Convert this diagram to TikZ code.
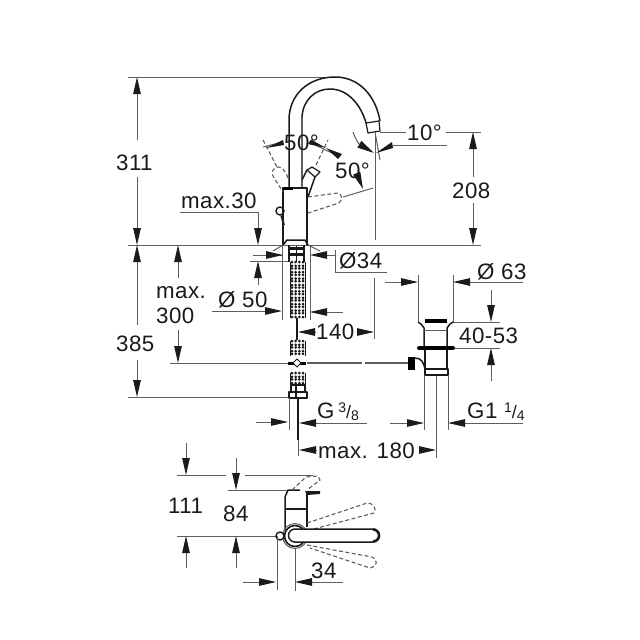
\documentclass[tikz,border=0pt]{standalone}
\usepackage{fontspec}
\setmainfont[LetterSpace=2]{Liberation Sans}
\usetikzlibrary{arrows.meta}
\definecolor{dimg}{HTML}{5E5E5E}
\definecolor{ink}{HTML}{1A1A1A}
\tikzset{
  dimline/.style={draw=dimg,line width=1pt},
  dimarrow/.style={dimline,-{Triangle[length=17pt,width=7.5pt,color=ink]}},
  part/.style={draw=ink,line width=1.5pt,line join=round},
  heavy/.style={draw=black,line width=3pt},
  ghost/.style={draw=dimg,line width=1.1pt,dash pattern=on 4pt off 2.5pt},
  lbl/.style={inner sep=0pt,anchor=base west,text=ink,font=\fontsize{22.3}{24}\selectfont},
  threads/.pic={
    \draw[ink,line width=1pt] (-7.5,0) -- (-7.5,{#1*3.2+2});
    \draw[ink,line width=1pt] (7.5,0) -- (7.5,{#1*3.2+2});
    \foreach \r in {0,...,#1}{
      \foreach \c in {-5.5,-1.8,1.8,5.5}{
        \fill[ink] ({\c},{\r*3.2+mod(\r,2)*0.6}) circle (1.5pt);
      }
    }
  }
}
\begin{document}
\begin{tikzpicture}[x=1pt,y=-1pt]
\useasboundingbox (0,0) rectangle (640,640);
% main dimension lines
\draw[dimline] (128,77) -- (335,77);
\draw[dimline] (128,245) -- (481,245);
\draw[dimline] (128,397) -- (290,397);
\draw[dimline] (170,363) -- (288,363);
\draw[dimarrow] (137,140) -- (137,77);
\draw[dimarrow] (137,177) -- (137,245);
\draw[dimarrow] (137,325) -- (137,245);
\draw[dimarrow] (137,360) -- (137,397);
\draw[dimarrow] (178,278) -- (178,245);
\draw[dimarrow] (178,330) -- (178,363);
\node[lbl] (h311) at (116,170) {311};
\node[lbl] (h385) at (116,351) {385};
\node[lbl] (mx) at (156,298) {max.};
\node[lbl] (m300) at (156,323) {300};
% max.30
\draw[dimline] (180,212) -- (258,212);
\draw[dimarrow] (258,212) -- (258,245);
\node[lbl] (m30) at (181,208) {max.30};
\draw[dimarrow] (258,285) -- (258,261);
\draw[dimline] (250,261) -- (290,261);
\draw[dimline] (253,255) -- (283,255);
% spout
\draw[part] (289,188) -- (289,120) .. controls (289,95) and (308,77) .. (335,77) .. controls (360,77) and (376,97) .. (380,121);
\draw[draw=dimg,line width=1.4pt] (302,188) -- (302,117);
\draw[part] (302,117) .. controls (303,100) and (315,89) .. (330,89) .. controls (348,89) and (361,105) .. (366,123);
\draw[part,line width=1.2pt] (366,123) -- (379,121) -- (380,131) -- (368,133) -- cycle;
% body
\draw[part] (283,245) -- (283,188) -- (307,188) -- (307,245);
\draw[heavy] (283,188) -- (293,188);
% lever solid
\draw[part] (308,197) -- (315,177);
\draw[part] (302,180) -- (307,170);
\draw[part,line width=1.2pt] (307,170) -- (312,167) -- (320,172) -- (315,177) -- cycle;
\draw[ghost] (316,165) -- (328,140);
% lever right dashed
\draw[ghost] (308,197) -- (338,193) .. controls (342,194) and (343,200) .. (339,203) -- (308,213);
\draw[dimline] (343,197) -- (373,188);
% lever left dashed
\draw[ghost] (263,140) -- (277,167);
\draw[ghost] (288,178) .. controls (285,170) and (282,167) .. (278,167) .. controls (273,168) and (271,172) .. (273,176) -- (283,192);
% ball
\node[circle,draw=ink,line width=1.4pt,minimum size=8pt,inner sep=0pt] (ball) at (280,211) {};
\draw[draw=ink,line width=1.8pt] (ball) -- (284,225);
% angle arrows
\draw[dimline] (263,147) -- (283,142);
\draw[dimline] (309,142) -- (340,157);
\fill[ink] (266,148) -- (283,140) -- (284,145) -- cycle;
\fill[ink] (326,148) -- (308,144) -- (311,139.5) -- cycle;
\fill[ink] (326,148) -- (342,154) -- (338,159) -- cycle;
\node[lbl] (a50) at (284,150) {50°};
\node[lbl] (b50) at (335,178) {50°};
\draw[dimarrow] (357,174) -- (363,189);
% 10 deg
\draw[dimline] (380,132) -- (406,132);
\draw[dimline] (446,132) -- (481,132);
\draw[dimline] (375,132) -- (375,240);
\draw[dimline] (375,132) -- (380,160);
\draw[dimarrow] (353,132) .. controls (355,138) and (357,141) .. (359,144) -- (374,153);
\draw[dimline] (393,145) -- (447,145);
\fill[ink] (376,153) -- (392,142) -- (393,148) -- cycle;
\node[lbl] (t10) at (407,140) {10°};
% 208
\draw[dimarrow] (473,177) -- (473,132);
\draw[dimarrow] (473,203) -- (473,245);
\node[lbl] (h208) at (452,198) {208};
% base flange and nut
\draw[part] (283,245) -- (287,240) -- (305,240) -- (308,245);
\draw[dimline] (282,245) -- (282,320);
\draw[dimline] (310,245) -- (310,320);
\draw[part] (289,245) -- (289,262);
\draw[part] (304,245) -- (304,262);
\fill[ink] (289,247) rectangle (304,250);
\fill[ink] (289,253) rectangle (304,256);
\draw[part] (296.5,246) -- (296.5,262);
\draw[dimline] (273,251) -- (283,245);
\draw[dimline] (320,251) -- (308,245);
% threaded rod
\pic at (297.5,262) {threads=17};
\draw[part] (297,318) -- (297,340);
\pic at (297.5,341) {threads=4};
\draw[line width=3pt,draw=black] (288,363) -- (306,363);
\draw[fill=white,draw=ink,line width=1pt] (297,359) -- (301,363) -- (297,367) -- (293,363) -- cycle;
\pic at (297.5,373) {threads=3};
\draw[part] (291,385) rectangle (305,392);
\draw[part] (289,392) rectangle (307,398);
\draw[part] (296,385) -- (296,398);
\draw[part] (298,398) -- (298,440);
% Ø34
\draw[dimarrow] (266,255) -- (283,255);
\draw[dimarrow] (335,255) -- (310,255);
\draw[dimline] (335,250) -- (335,272) -- (387,272);
\node[lbl] (d34) at (339,268) {Ø34};
% Ø50
\draw[dimarrow] (212,311) -- (282,311);
\draw[dimarrow] (343,312) -- (310,312);
\node[lbl] (d50) at (218,307) {Ø 50};
% 140
\draw[dimarrow] (316,332) -- (298,332);
\draw[dimarrow] (357,332) -- (374,332);
\draw[dimline] (374,278) -- (374,339);
\node[lbl] (w140) at (316,339) {140};
% drain rod
\draw[draw=dimg,line width=2.2pt] (307,363) -- (362,363);
\draw[draw=dimg,line width=2.2pt] (365,363) -- (408,363);
\fill[black] (408,357) rectangle (415,370);
\draw[part] (415,358) .. controls (421,358) and (424,362) .. (425,370);
% waste
\draw[dimline] (418,275) -- (418,322);
\draw[dimline] (453,275) -- (453,322);
\draw[dimarrow] (385,282) -- (418,282);
\draw[dimarrow] (470,282) -- (453,282);
\draw[dimline] (470,282) -- (523,282);
\node[lbl] (d63) at (477,279) {Ø 63};
\draw[dimline] (453,322) -- (500,322);
\draw[dimline] (453,348) -- (500,348);
\draw[dimarrow] (491,290) -- (491,322);
\draw[dimarrow] (491,381) -- (491,348);
\node[lbl] (h40) at (459,343) {40-53};
\draw[part] (418,322) -- (421,324) -- (424,328) -- (424,346);
\draw[part] (453,322) -- (450,324) -- (447,328) -- (447,346);
\draw[heavy,line width=3.4pt] (425,321) -- (447,321);
\draw[dimline] (424,330) -- (447,330);
\draw[line width=4pt,draw=black,line cap=round] (419,348) -- (453,348);
\draw[part] (447,350) -- (447,369);
\draw[part] (425,350) -- (425,369);
\draw[part] (425,369) rectangle (448,375);
\draw[dimline] (424,375) -- (424,430);
\draw[dimline] (448,375) -- (448,430);
\draw[dimline] (436,376) -- (436,458);
% G 3/8
\draw[dimline] (289,398) -- (289,430);
\draw[dimarrow] (256,422) -- (288,422);
\draw[dimarrow] (317,423) -- (299,423);
\draw[dimline] (317,423) -- (367,423);
\node[lbl] (g38) at (317,418) {G\,\raisebox{6pt}{\fontsize{14}{14}\selectfont 3}\fontsize{18}{18}\selectfont/\raisebox{-2pt}{\fontsize{14}{14}\selectfont 8}};
% G1 1/4
\draw[dimarrow] (390,423) -- (424,423);
\draw[dimarrow] (465,423) -- (448,423);
\draw[dimline] (465,423) -- (523,423);
\node[lbl] (g14) at (467,418) {G1 \raisebox{6pt}{\fontsize{14}{14}\selectfont 1}\fontsize{18}{18}\selectfont/\raisebox{-2pt}{\fontsize{14}{14}\selectfont 4}};
% max 180
\draw[dimline] (298,440) -- (298,456);
\draw[dimarrow] (316,450) -- (299,450);
\draw[dimarrow] (420,450) -- (436,450);
\node[lbl] (m180) at (318,458) {max. 180};
% top view dims
\draw[dimline] (177,475) -- (226,475);
\draw[dimline] (245,475) -- (313,475);
\draw[dimline] (228,490) -- (288,490);
\draw[dimline] (177,536) -- (277,536);
\draw[dimarrow] (186,443) -- (186,475);
\draw[dimarrow] (236,458) -- (236,490);
\draw[dimarrow] (186,568) -- (186,536);
\draw[dimarrow] (236,568) -- (236,536);
\node[lbl] (h111) at (168,513) {111};
\node[lbl] (h84) at (223,521) {84};
% top view body
\draw[part] (285,530) -- (285,497) -- (288,490) -- (300,490);
\draw[part] (307,527) -- (307,493);
\draw[line width=2.4pt,draw=ink] (285,509) -- (307,509);
\fill[ink] (305,491) -- (320,491) -- (320,494) -- (307,495) -- cycle;
\draw[ghost] (292,490) -- (306,477) -- (318,476) -- (320,480) -- (307,490);
% top view handle
\draw[dimg,line width=1pt] (295,536) circle (12.5pt);
\draw[draw=ink,line width=1.6pt] (295,536) circle (10.5pt);
\draw[ghost] (307,523) -- (367,503) .. controls (373,503) and (377,508) .. (374,513) -- (310,530);
\draw[ghost] (307,545) -- (372,557) .. controls (378,560) and (378,566) .. (370,568) -- (310,548);
\draw[part,fill=white] (295,529) -- (373,529) arc[start angle=90,end angle=-90,radius=6.5pt] -- (295,542) arc[start angle=270,end angle=90,radius=6.5pt] -- cycle;
\draw[draw=ink,line width=2.4pt] (373,529.5) arc[start angle=90,end angle=-90,radius=6pt];
\node[circle,draw=ink,fill=white,line width=1.4pt,minimum size=8pt,inner sep=0pt] (ball2) at (280,536) {};
% 34
\draw[dimline] (277,536) -- (277,590);
\draw[dimline] (295,548) -- (295,591);
\draw[dimarrow] (243,582) -- (276,582);
\draw[dimarrow] (343,582) -- (295,582);
\node[lbl] (w34) at (311,578) {34};
\end{tikzpicture}
\end{document}
